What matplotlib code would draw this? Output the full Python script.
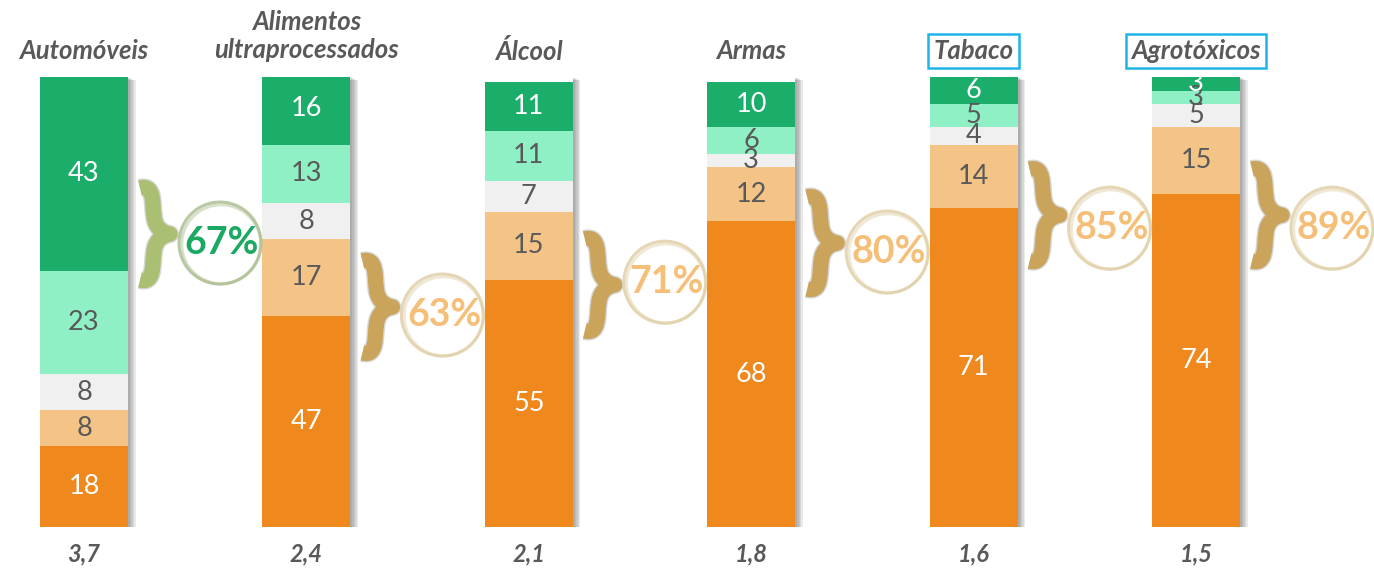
import matplotlib
matplotlib.use("Agg")
import matplotlib.pyplot as plt
import numpy as np
from matplotlib.path import Path
from matplotlib.patches import PathPatch, Ellipse
import matplotlib.patheffects as pe

# ---------------- data ----------------
categories = ["Automóveis", "Alimentos\nultraprocessados", "Álcool", "Armas", "Tabaco", "Agrotóxicos"]
seg_orange = [18, 47, 55, 68, 71, 74]
seg_light_orange = [8, 17, 15, 12, 14, 15]
seg_gray = [8, 8, 7, 3, 4, 5]
seg_mint = [23, 13, 11, 6, 5, 3]
seg_green = [43, 16, 11, 10, 6, 3]
group_pct = [67, 63, 71, 80, 85, 89]
bottom_values = [3.7, 2.4, 2.1, 1.8, 1.6, 1.5]
boxed = [False, False, False, False, True, True]

# ---------------- style ----------------
W, H = 1374, 572
DPI = 100
fig = plt.figure(figsize=(W / DPI, H / DPI), dpi=DPI)
fig.patch.set_facecolor("white")

bar_center0_px = 84.0
bar_step_px = 222.4
bar_bottom_px = 527.0
bar_top_px = 77.0

ax = fig.add_axes([0, (H - bar_bottom_px) / H, 1, (bar_bottom_px - bar_top_px) / H])
ax.set_xlim(-bar_center0_px / bar_step_px, (W - bar_center0_px) / bar_step_px)
ax.set_ylim(0, 100)
ax.axis("off")

sx = bar_step_px          # px per x unit
sy = (bar_bottom_px - bar_top_px) / 100.0  # px per y unit

FONT = ["Lato", "DejaVu Sans"]
C_DKGREEN = "#1bae6a"
C_MINT = "#8ff0c6"
C_GRAY = "#f0f0f0"
C_LORANGE = "#f4c386"
C_ORANGE = "#ef881d"
TXT_GRAY = "#595959"

x = np.arange(len(categories))
bw = 88 / sx

# soft shadow background bars
shadow_fx = [pe.SimplePatchShadow(offset=(o, -o * 0.4), shadow_rgbFace="#555555", alpha=0.12)
             for o in [5.5, 4.5, 3.5, 2.5, 1.5]]
ax.bar(x, [100] * len(x), width=bw, color="white", zorder=1,
       path_effects=shadow_fx + [pe.Normal()])

series = [
    (seg_orange, C_ORANGE, "white"),
    (seg_light_orange, C_LORANGE, TXT_GRAY),
    (seg_gray, C_GRAY, TXT_GRAY),
    (seg_mint, C_MINT, TXT_GRAY),
    (seg_green, C_DKGREEN, "white"),
]
bottom = np.zeros(len(x))
for vals, col, tcol in series:
    vals = np.array(vals, dtype=float)
    ax.bar(x, vals, width=bw, bottom=bottom, color=col, zorder=2, linewidth=0)
    for i, v in enumerate(vals):
        ax.text(x[i], bottom[i] + v / 2, f"{int(v)}", ha="center", va="center",
                color=tcol, fontsize=19.5, family=FONT, zorder=3)
    bottom += vals

# titles
for i, name in enumerate(categories):
    kw = dict(ha="center", va="center", fontsize=18.5, fontweight="bold", fontstyle="italic",
              color=TXT_GRAY, family=FONT)
    if "\n" in name:
        ax.text(x[i], 100 + (bar_top_px - 36) / sy, name, linespacing=1.2, **kw)
    else:
        if boxed[i]:
            kw["bbox"] = dict(boxstyle="square,pad=0.2", fc="white", ec="#1fb4ea", lw=1.8)
        ax.text(x[i], 100 + (bar_top_px - 51) / sy, name, **kw)

# bottom values
for i, v in enumerate(bottom_values):
    ax.text(x[i], -(554 - bar_bottom_px) / sy, f"{v:.1f}".replace(".", ","), ha="center", va="center",
            fontsize=17, fontweight="bold", fontstyle="italic", color=TXT_GRAY, family=FONT)

# braces and circles (layout positions in data units)
brace_dx = 71 / sx
brace_y = [65.1, 48.9, 53.8, 63.1, 69.3, 69.3]
circle_dx = 136 / sx
circle_y = [63.1, 47.1, 54.4, 61.1, 66.4, 66.4]


def brace_path(xc, yc):
    pts_px = [(-15, 46), (0, 50), (-3, 30), (-1, 18),
              (0, 6), (8, 1), (15, 0),
              (8, -1), (0, -6), (-1, -18),
              (-3, -30), (0, -50), (-15, -46)]
    verts = [(xc + px / sx, yc + py / sy) for px, py in pts_px]
    codes = [Path.MOVETO] + [Path.CURVE4] * 12
    return Path(verts, codes)


for i, p in enumerate(group_pct):
    green = i == 0
    bcol = "#abbf73" if green else "#caa45b"
    ccol = "#b3c299" if green else "#e3d3ae"
    tcol = "#1aa862" if green else "#f5bf78"
    path = brace_path(x[i] + brace_dx, brace_y[i])
    patch = PathPatch(path, fill=False, edgecolor=bcol, lw=11, capstyle="butt", joinstyle="round",
                      zorder=4,
                      path_effects=[pe.Stroke(linewidth=13, foreground="#d6d6d6"), pe.Normal()])
    ax.add_patch(patch)
    cx, cy = x[i] + circle_dx, circle_y[i]
    for r, a, off in [(41, 0.9, 0), (39.5, 0.5, 1.2)]:
        e = Ellipse((cx + off / sx, cy - off / sy), 2 * r / sx, 2 * r / sy, fill=False,
                    edgecolor=ccol, lw=2.2, alpha=a, zorder=4)
        ax.add_patch(e)
    ax.text(cx + 2 / sx, cy, f"{p}%", ha="center", va="center", fontsize=27, fontweight="bold",
            color=tcol, family=FONT, zorder=5)

fig.savefig("out.png", dpi=DPI, facecolor="white")
